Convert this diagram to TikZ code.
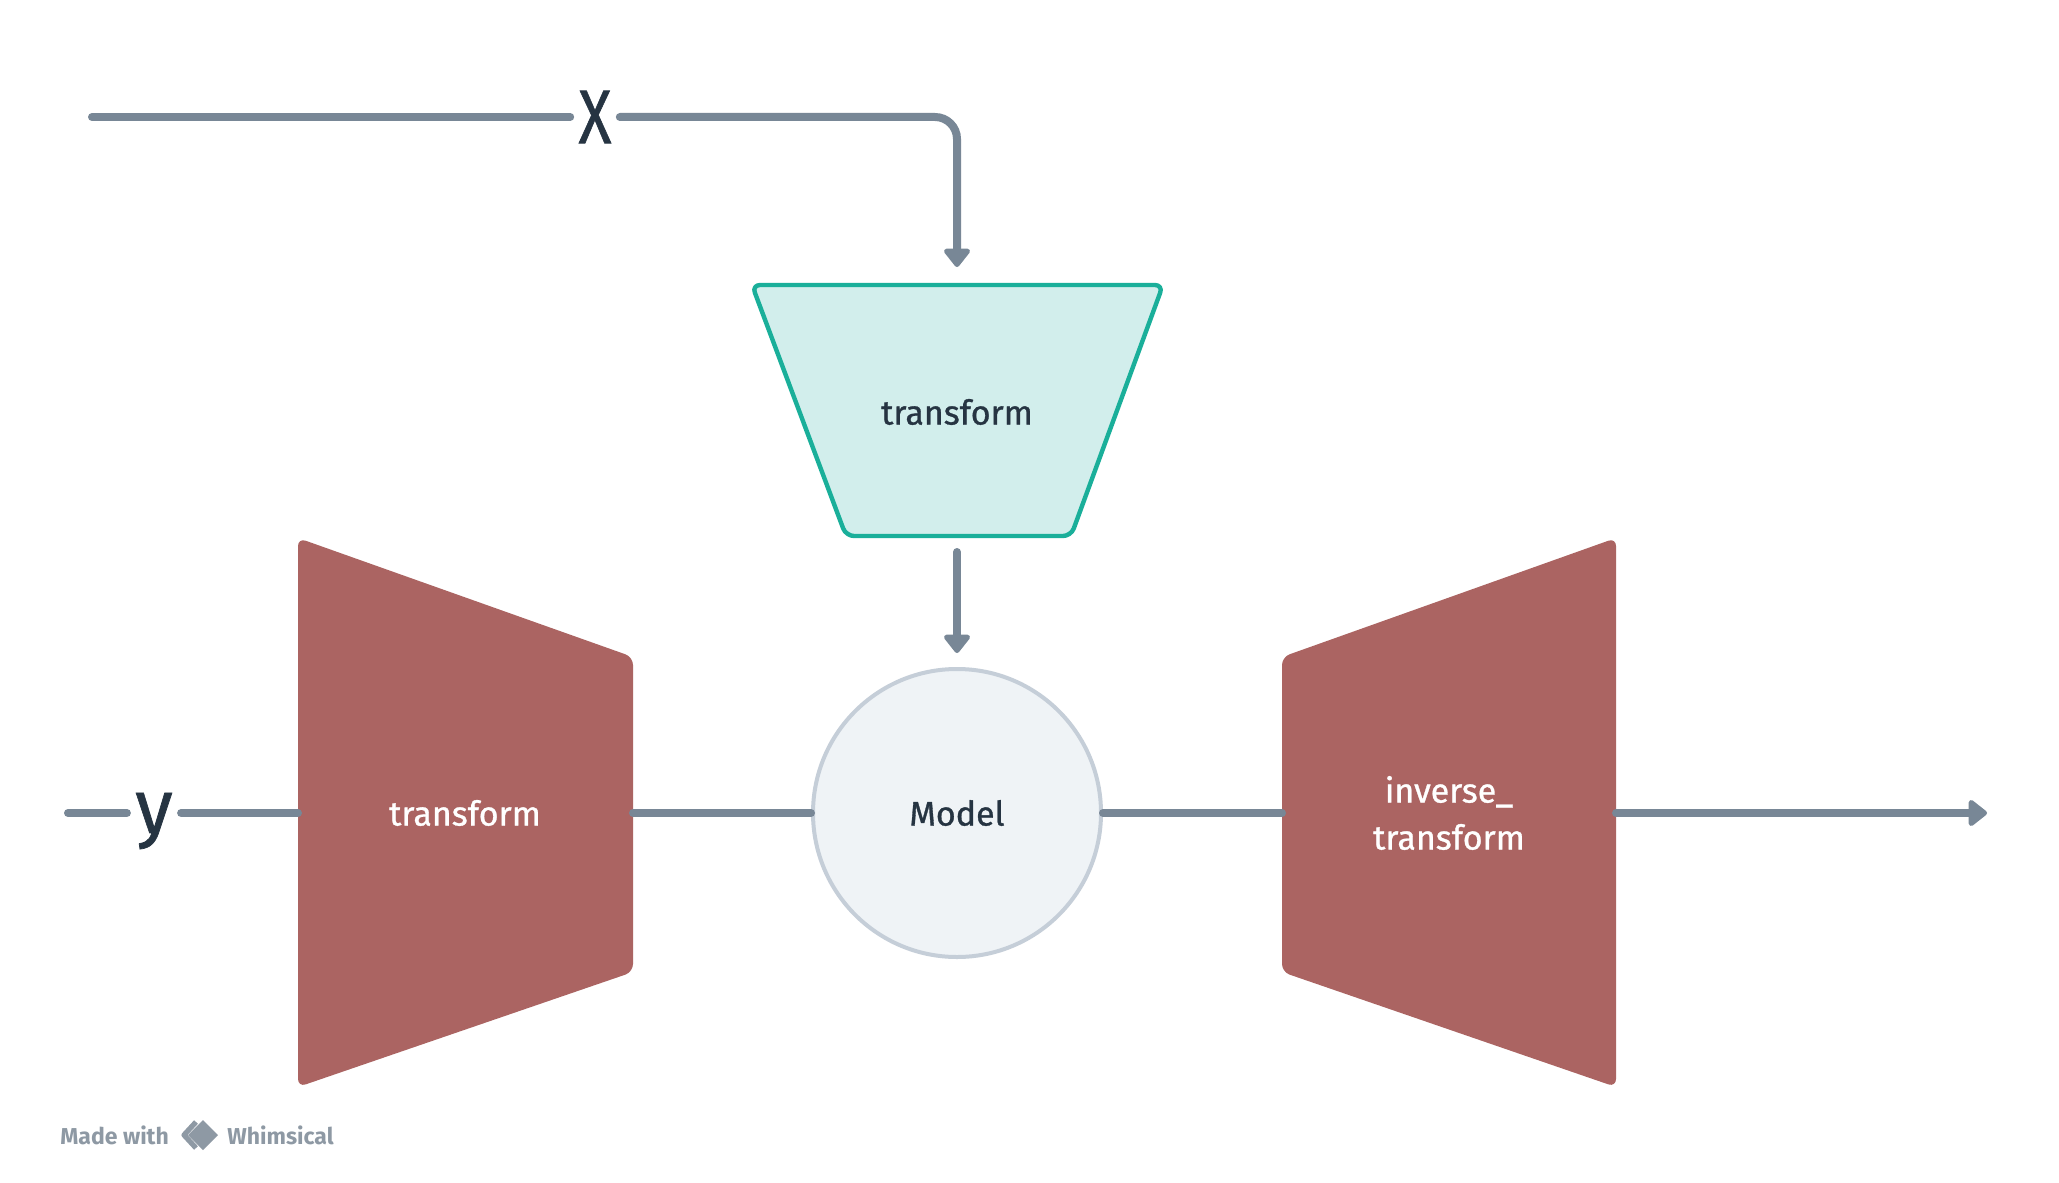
\documentclass[tikz,border=0pt]{standalone}
\usepackage{fontspec}
\setmainfont{Fira Sans}
\newfontfamily\medfont{Fira Sans}[FakeBold=0.9]
\usetikzlibrary{arrows.meta}
\definecolor{linegrey}{HTML}{788796}
\definecolor{tealline}{HTML}{1AAF9A}
\definecolor{tealfill}{HTML}{D2EEEC}
\definecolor{redfill}{HTML}{AB6462}
\definecolor{circfill}{HTML}{EFF3F6}
\definecolor{circline}{HTML}{C5CED8}
\definecolor{darktext}{HTML}{263442}
\definecolor{markgrey}{HTML}{8E99A4}
\tikzset{
  conn/.style={draw=linegrey, line width=4pt, line cap=round},
  arrowed/.style={conn, -{Triangle[width=15pt,length=10pt,round]}, shorten >=1pt},
  tealbox/.style={draw=tealline, fill=tealfill, line width=2.2pt, rounded corners=4pt, line join=round},
  redbox/.style={fill=redfill, rounded corners=4pt},
  lbl/.style={font=\medfont\fontsize{17}{23.5}\selectfont, text=darktext, align=center},
  wlbl/.style={font=\medfont\fontsize{17}{23.5}\selectfont, text=white, align=center},
  biglbl/.style={font=\medfont\fontsize{38}{40}\selectfont, text=darktext, inner sep=4pt},
  modelc/.style={circle, draw=circline, fill=circfill, line width=2pt, minimum size=144pt, inner sep=0pt,
    font=\medfont\fontsize{17}{23.5}\selectfont, text=darktext},
  credit/.style={font=\fontsize{11.5}{14}\selectfont\bfseries, text=markgrey, inner sep=0pt}
}
\begin{document}
\begin{tikzpicture}[x=0.5pt,y=-0.5pt]
\useasboundingbox (0,0) rectangle (2059,1182);
\fill[white] (0,0) rectangle (2059,1182);

% teal trapezoid (transform on X)
\filldraw[tealbox] (752,285) -- (1163,285) -- (1071,536) -- (846,536) -- cycle;
\node[lbl] (tx) at (957,412) {transform};
\coordinate (ttop) at (957,269);
\coordinate (tbot) at (957,552);

% model circle
\node[modelc] (model) at (957,813) {Model};
\coordinate (mtop) at (957,655);

% left red trapezoid (transform on y)
\fill[redbox] (298,538) -- (633,657) -- (633,972) -- (298,1087) -- cycle;
\node[wlbl] (ty) at (465,813) {transform};
\coordinate (lin) at (298,813);
\coordinate (lout) at (633,813);

% right red trapezoid (inverse_transform)
\fill[redbox] (1282,657) -- (1616,538) -- (1616,1087) -- (1282,972) -- cycle;
\node[wlbl] (inv) at (1449,813) {inverse\_\\transform};
\coordinate (rin) at (1282,813);
\coordinate (rout) at (1616,813);
\coordinate (outend) at (1989,813);

% X input
\coordinate (xs) at (92,117);
\node[biglbl] (X) at (595,117) {\scalebox{0.8}[1]{X}};
\draw[conn] (xs) -- (X.west |- xs);
\draw[arrowed, rounded corners=11pt] (X.east |- xs) -| (ttop);

% transform -> model
\draw[arrowed] (tbot) -- (mtop);

% y input
\coordinate (ys) at (68,813);
\node[biglbl] (Y) at (154,821) {y};
\draw[conn] (ys) -- (Y.west |- ys);
\draw[conn] (Y.east |- ys) -- (lin);

% main line
\draw[conn] (lout) -- (model.west);
\draw[conn] (model.east) -- (rin);
\draw[arrowed] (rout) -- (outend);

% credit
\node[credit, anchor=west] (made) at (60,1135) {Made with};
\fill[markgrey] (203,1120) -- (218,1135) -- (203,1150) -- (188,1135) -- cycle;
\draw[markgrey, line width=2.6pt, line join=round] (196,1122) -- (184,1135) -- (196,1148);
\node[credit, anchor=west] (whim) at (227,1135) {Whimsical};
\end{tikzpicture}
\end{document}
